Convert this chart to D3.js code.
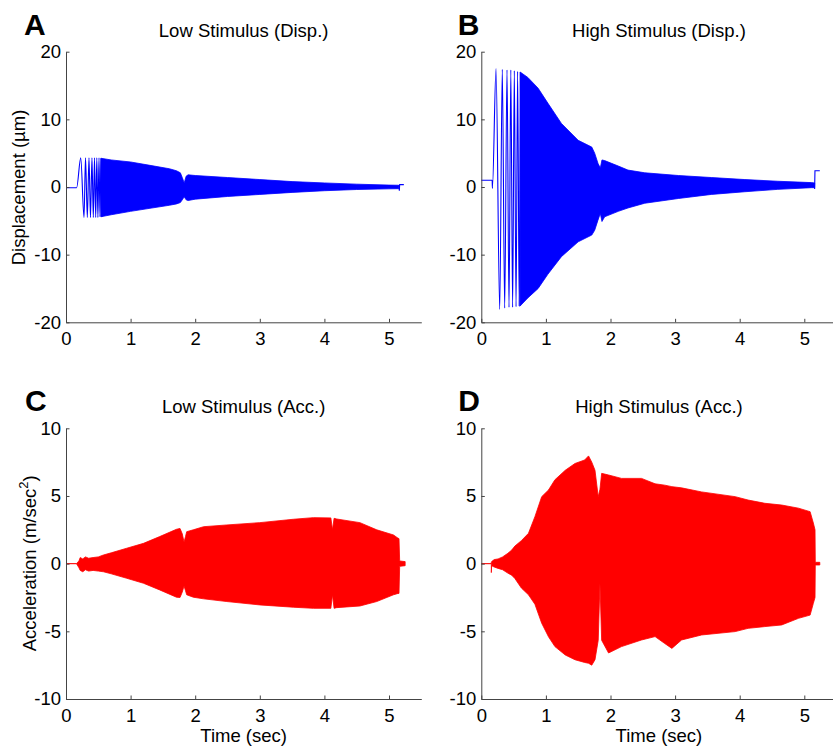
<!DOCTYPE html>
<html>
<head>
<meta charset="utf-8">
<script src="https://cdn.jsdelivr.net/npm/d3@7"></script>
<style>
body { margin: 0; background: #fff; }
svg { display: block; font-family: 'Liberation Sans', Arial, Helvetica, sans-serif; }
.axis path, .axis line { stroke: #444; stroke-width: 1; }
.axis text { fill: #000; font-size: 18.5px; }
</style>
</head>
<body>
<script>
// Tick values
const xTicks = [0, 1, 2, 3, 4, 5]
const dispTicks = [-20, -10, 0, 10, 20]
const accTicks = [-10, -5, 0, 5, 10]

// A: low stimulus displacement (um)
const aChirpT = [0, 0.165, 0.228, 0.279, 0.302, 0.330, 0.356, 0.379, 0.402, 0.423, 0.441, 0.460, 0.477, 0.494, 0.511, 0.526, 0.542, 0.557]
const aChirpV = [-0.1, -0.1, 4.3, -4.5, 4.3, -4.5, 4.3, -4.5, 4.3, -4.5, 4.3, -4.5, 4.3, -4.5, 4.3, -4.4, 4.25, -4.4]
const aTime = [0.54, 0.7, 1.0, 1.3, 1.6, 1.71, 1.77, 1.80, 1.83, 1.86, 1.89, 2.0, 2.5, 3.0, 3.5, 4.0, 4.5, 5.0, 5.15]
const aUpper = [4.25, 4.0, 3.7, 3.2, 2.7, 2.4, 2.1, 1.4, 0.6, 1.6, 1.8, 1.7, 1.4, 1.1, 0.8, 0.6, 0.42, 0.28, 0.26]
const aLower = [-4.4, -4.1, -3.6, -3.15, -2.7, -2.5, -2.3, -1.9, -1.45, -1.9, -2.0, -1.8, -1.4, -1.1, -0.8, -0.55, -0.37, -0.27, -0.25]
const aEndT = [5.15, 5.16, 5.165, 5.23]
const aEndV = [0.26, -0.55, 0.35, 0.35]

// B: high stimulus displacement (um)
const bChirpT = [0, 0.168, 0.172, 0.228, 0.285, 0.325, 0.362, 0.398, 0.429, 0.457, 0.485, 0.511, 0.538, 0.562, 0.587, 0.610]
const bChirpV = [1.0, 1.0, -0.2, 17.5, -18.1, 17.4, -17.9, 17.3, -17.8, 17.3, -17.8, 17.2, -17.7, 17.1, -17.6, 16.9]
const bTime = [0.60, 0.72, 0.88, 1.03, 1.24, 1.5, 1.71, 1.755, 1.806, 1.842, 1.868, 1.91, 2.12, 2.27, 2.53, 3.05, 3.56, 4.08, 4.59, 5.11, 5.16]
const bUpper = [17.0, 16.2, 14.6, 12.4, 9.4, 6.9, 5.9, 5.0, 3.5, 2.8, 4.0, 3.9, 3.1, 2.5, 2.1, 1.7, 1.4, 1.1, 0.85, 0.65, 0.6]
const bLower = [-17.6, -16.4, -15.0, -12.9, -10.3, -8.1, -7.1, -6.4, -4.9, -3.9, -5.1, -4.4, -3.6, -3.1, -2.4, -1.7, -1.1, -0.7, -0.35, -0.1, -0.1]
const bEndT = [5.16, 5.165, 5.24]
const bEndV = [-0.3, 2.4, 2.4]

// C: low stimulus acceleration (m/sec^2)
const cTime = [0.165, 0.2, 0.22, 0.26, 0.3, 0.35, 0.42, 0.5, 0.58, 0.7, 0.94, 1.2, 1.45, 1.71, 1.765, 1.8, 1.827, 1.85, 1.868, 1.97, 2.13, 2.49, 3.0, 3.52, 3.83, 4.1, 4.125, 4.15, 4.19, 4.55, 4.81, 5.07, 5.14, 5.155, 5.165, 5.25]
const cUpper = [0.02, 0.2, 0.45, 0.35, 0.5, 0.4, 0.45, 0.5, 0.64, 0.8, 1.14, 1.5, 2.0, 2.54, 2.6, 2.2, 1.6, 2.0, 2.36, 2.5, 2.73, 2.86, 3.03, 3.28, 3.4, 3.38, 2.5, 3.35, 3.3, 3.03, 2.5, 2.12, 1.88, 1.85, 0.2, 0.15]
const cLower = [-0.02, -0.3, -0.5, -0.6, -0.45, -0.55, -0.5, -0.55, -0.6, -0.75, -1.08, -1.45, -1.94, -2.48, -2.5, -2.1, -1.65, -2.0, -2.3, -2.48, -2.6, -2.8, -3.05, -3.22, -3.3, -3.3, -2.3, -3.3, -3.25, -3.13, -2.8, -2.3, -2.2, -2.2, -0.2, -0.15]

// D: high stimulus acceleration (m/sec^2)
const dTime = [0.155, 0.16, 0.2, 0.26, 0.33, 0.41, 0.47, 0.52, 0.62, 0.73, 0.83, 0.935, 1.04, 1.14, 1.3, 1.45, 1.6, 1.66, 1.71, 1.76, 1.81, 1.837, 1.863, 1.97, 2.17, 2.48, 2.69, 2.84, 2.95, 3.1, 3.41, 3.93, 4.13, 4.39, 4.65, 4.91, 5.09, 5.14, 5.166, 5.17, 5.24]
const dUpper = [0.1, 0.15, 0.3, 0.35, 0.5, 0.76, 1.0, 1.3, 1.7, 2.24, 3.47, 4.95, 5.44, 6.2, 6.9, 7.4, 7.66, 7.96, 7.5, 6.9, 4.95, 5.5, 6.67, 6.55, 6.3, 6.3, 5.9, 5.8, 5.69, 5.6, 5.3, 4.95, 4.7, 4.46, 4.33, 4.1, 3.84, 3.0, 2.5, 0.1, 0.1]
const dLower = [-0.66, -0.15, -0.25, -0.35, -0.45, -0.7, -0.85, -1.1, -1.8, -2.3, -3.0, -4.4, -5.4, -6.13, -6.75, -7.1, -7.3, -7.36, -7.5, -7.1, -5.66, -1.45, -5.66, -6.6, -6.13, -5.64, -5.39, -5.9, -6.26, -5.64, -5.27, -5.02, -4.78, -4.65, -4.53, -4.04, -3.8, -2.93, -2.5, -0.1, -0.1]

const svg = d3.select('body').append('svg').attr('width', 833).attr('height', 747)

const xSpan = 355.3

const panels = [
	{ letter: 'A', title: 'Low Stimulus (Disp.)', left: 66, top: 51.7, bottom: 322.3, yDomain: [-20, 20], yTicks: dispTicks, color: '#0000ff',
		time: aTime, upper: aUpper, lower: aLower, startT: aChirpT, startV: aChirpV, endT: aEndT, endV: aEndV, letterX: 24, letterY: 35, titleY: 36.7 },
	{ letter: 'B', title: 'High Stimulus (Disp.)', left: 481.3, top: 51.7, bottom: 322.3, yDomain: [-20, 20], yTicks: dispTicks, color: '#0000ff',
		time: bTime, upper: bUpper, lower: bLower, startT: bChirpT, startV: bChirpV, endT: bEndT, endV: bEndV, letterX: 457.7, letterY: 35, titleY: 36.7 },
	{ letter: 'C', title: 'Low Stimulus (Acc.)', left: 66, top: 428.3, bottom: 699, yDomain: [-10, 10], yTicks: accTicks, color: '#ff0000',
		time: cTime, upper: cUpper, lower: cLower, startT: [0, 0.165], startV: [0, 0], letterX: 25, letterY: 410.7, titleY: 413.3, xlabel: true },
	{ letter: 'D', title: 'High Stimulus (Acc.)', left: 481.3, top: 428.3, bottom: 699, yDomain: [-10, 10], yTicks: accTicks, color: '#ff0000',
		time: dTime, upper: dUpper, lower: dLower, startT: [0, 0.155], startV: [0, 0], letterX: 458.3, letterY: 410.7, titleY: 413.3, xlabel: true }
]

panels.forEach(drawPanel)

function drawPanel(p) {
	const x = d3.scaleLinear().domain([0, 5.5]).range([p.left, p.left + xSpan])
	const y = d3.scaleLinear().domain(p.yDomain).range([p.bottom, p.top])
	const g = svg.append('g')

	// dense part of the signal as an envelope
	const rows = d3.zip(p.time, p.upper, p.lower)
	const area = d3.area()
		.x(d => x(d[0]))
		.y0(d => y(d[2]))
		.y1(d => y(d[1]))
	g.append('path')
		.attr('d', area(rows))
		.attr('fill', p.color)
		.attr('stroke', p.color)
		.attr('stroke-width', 0.8)
		.attr('stroke-linejoin', 'round')

	// start of the trace (flat part and first single cycles)
	const startLine = d3.line().x(d => x(d[0])).y(d => y(d[1])).curve(d3.curveMonotoneX)
	g.append('path')
		.attr('d', startLine(d3.zip(p.startT, p.startV)))
		.attr('fill', 'none')
		.attr('stroke', p.color)
		.attr('stroke-width', 1.1)

	// tail after the stimulus
	if (p.endT) {
		const endLine = d3.line().x(d => x(d[0])).y(d => y(d[1]))
		g.append('path')
			.attr('d', endLine(d3.zip(p.endT, p.endV)))
			.attr('fill', 'none')
			.attr('stroke', p.color)
			.attr('stroke-width', 1.1)
	}

	// axes, ticks pointing inwards
	const xaxis = d3.axisBottom(x).tickValues(xTicks).tickFormat(d => String(d))
		.tickSizeInner(-3.5).tickSizeOuter(0).tickPadding(9.5)
	g.append('g').attr('class', 'axis').attr('transform', `translate(0,${p.bottom})`).call(xaxis)

	const yaxis = d3.axisLeft(y).tickValues(p.yTicks).tickFormat(d => String(d))
		.tickSizeInner(-3.5).tickSizeOuter(0).tickPadding(5)
	g.append('g').attr('class', 'axis').attr('transform', `translate(${p.left},0)`).call(yaxis)

	g.selectAll('.axis').attr('font-family', null).attr('font-size', null)

	// title and panel letter
	g.append('text')
		.attr('x', p.left + xSpan / 2).attr('y', p.titleY)
		.attr('text-anchor', 'middle').attr('font-size', '18.5px')
		.text(p.title)
	g.append('text')
		.attr('x', p.letterX).attr('y', p.letterY)
		.attr('font-size', '30px').attr('font-weight', 'bold')
		.text(p.letter)

	if (p.xlabel) {
		g.append('text')
			.attr('x', p.left + xSpan / 2).attr('y', 741.5)
			.attr('text-anchor', 'middle').attr('font-size', '18.5px')
			.text('Time (sec)')
	}
}

// y axis labels
svg.append('text')
	.attr('transform', 'translate(24.5,187.5) rotate(-90)')
	.attr('text-anchor', 'middle').attr('font-size', '18.5px')
	.text('Displacement (\u00b5m)')

const accLabel = svg.append('text')
	.attr('transform', 'translate(36.2,563.3) rotate(-90)')
	.attr('text-anchor', 'middle').attr('font-size', '18.5px')
accLabel.append('tspan').text('Acceleration (m/sec')
accLabel.append('tspan').attr('dy', -8).attr('font-size', '13px').text('2')
accLabel.append('tspan').attr('dy', 8).text(')')
</script>
</body>
</html>
